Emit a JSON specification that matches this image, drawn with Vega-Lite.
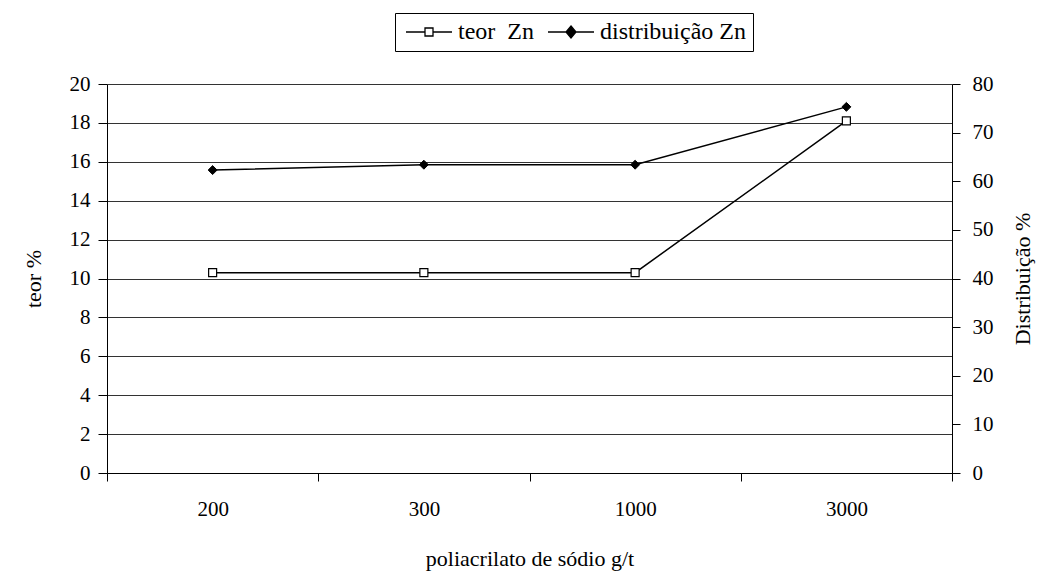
{
  "$schema": "https://vega.github.io/schema/vega-lite/v6.json",
  "width": 845,
  "height": 389,
  "autosize": {"type": "none"},
  "padding": {"left": 107, "top": 84, "right": 90, "bottom": 109},
  "background": "white",
  "config": {
    "font": "Times New Roman, Liberation Serif, serif",
    "view": {"stroke": null},
    "axis": {
      "labelFont": "Liberation Serif",
      "titleFont": "Liberation Serif",
      "labelFontSize": 21,
      "titleFontSize": 22,
      "titleFontWeight": "normal",
      "labelColor": "black",
      "titleColor": "black",
      "domainColor": "black",
      "tickColor": "black",
      "gridColor": "#333333",
      "gridWidth": 1,
      "domainWidth": 1,
      "tickWidth": 1
    }
  },
  "data": {
    "values": [
      {"dose": "200", "teor": 10.3, "dist": 62.3},
      {"dose": "300", "teor": 10.3, "dist": 63.4},
      {"dose": "1000", "teor": 10.3, "dist": 63.4},
      {"dose": "3000", "teor": 18.1, "dist": 75.3}
    ]
  },
  "encoding": {
    "x": {
      "field": "dose",
      "type": "ordinal",
      "sort": ["200", "300", "1000", "3000"],
      "bandPosition": 0.5,
      "scale": {"type": "band", "paddingInner": 0, "paddingOuter": 0},
      "axis": {
        "title": "poliacrilato de sódio g/t",
        "labelAngle": 0,
        "labelFont": "Liberation Serif",
        "titleFont": "Liberation Serif",
        "tickBand": "extent",
        "tickSize": 8,
        "labelPadding": 17,
        "titlePadding": 29,
        "grid": false
      }
    }
  },
  "layer": [
    {
      "encoding": {
        "y": {
          "field": "teor",
          "type": "quantitative",
          "scale": {"domain": [0, 20], "nice": false},
          "axis": {
            "orient": "left",
            "title": "teor %",
            "labelFont": "Liberation Serif",
            "titleFont": "Liberation Serif",
            "values": [0, 2, 4, 6, 8, 10, 12, 14, 16, 18, 20],
            "grid": true,
            "tickSize": 9,
            "labelPadding": 8,
            "titlePadding": 24
          }
        }
      },
      "layer": [
        {
          "mark": {"type": "line", "strokeWidth": 1.5},
          "encoding": {
            "color": {
              "datum": "teor\u00a0 Zn",
              "scale": {"domain": ["teor\u00a0 Zn", "distribuição Zn"], "range": ["black", "black"]},
              "legend": {
                "title": null,
                "orient": "none",
                "legendX": 288,
                "legendY": -71,
                "direction": "horizontal",
                "strokeColor": "black",
                "fillColor": "white",
                "padding": 7,
                "labelFont": "Liberation Serif",
                "labelFontSize": 24,
                "labelColor": "black",
                "labelOffset": 17,
                "symbolOffset": 15,
                "columnPadding": 10,
                "symbolSize": 400,
                "symbolStrokeWidth": 1.3,
                "symbolStrokeColor": "black",
                "encode": {
                  "symbols": {
                    "update": {
                      "shape": {"signal": "indexof(datum.value, 'teor') >= 0 ? 'M-2.3,0H-0.4M0.4,0H2.3M-0.4,-0.4H0.4V0.4H-0.4Z' : 'M-2.3,0H2.3M0,-0.6L0.5,0L0,0.6L-0.5,0Z'"},
                      "fill": {"signal": "indexof(datum.value, 'teor') >= 0 ? 'white' : 'black'"},
                      "stroke": {"value": "black"},
                      "opacity": {"value": 1}
                    }
                  }
                }
              }
            }
          }
        },
        {
          "mark": {"type": "point", "shape": "square", "filled": true, "fill": "white", "stroke": "black", "strokeWidth": 1.2, "size": 64, "opacity": 1}
        }
      ]
    },
    {
      "encoding": {
        "y": {
          "field": "dist",
          "type": "quantitative",
          "scale": {"domain": [0, 80], "nice": false},
          "axis": {
            "orient": "right",
            "title": "Distribuição %",
            "labelFont": "Liberation Serif",
            "titleFont": "Liberation Serif",
            "values": [0, 10, 20, 30, 40, 50, 60, 70, 80],
            "grid": false,
            "tickSize": 8,
            "labelPadding": 12,
            "titlePadding": 19,
            "titleAngle": 270,
            "titleBaseline": "top"
          }
        }
      },
      "layer": [
        {
          "mark": {"type": "line", "strokeWidth": 1.5},
          "encoding": {
            "color": {"datum": "distribuição Zn"}
          }
        },
        {
          "mark": {"type": "point", "shape": "diamond", "filled": true, "fill": "black", "stroke": "black", "strokeWidth": 1, "size": 80, "opacity": 1}
        }
      ]
    }
  ],
  "resolve": {"scale": {"y": "independent"}}
}
